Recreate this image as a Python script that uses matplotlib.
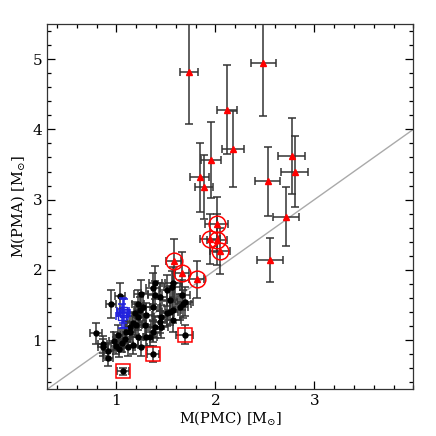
import matplotlib
matplotlib.use("Agg")
import matplotlib.pyplot as plt
from matplotlib.ticker import MultipleLocator, FixedLocator

# ---- data ----
# black points (PMC, PMA, xerr, yerr)
blk_x = [0.79, 0.86, 0.92, 0.915, 0.95, 1.04, 1.25, 0.98, 1.02, 1.10, 1.17, 1.22, 1.27, 1.22,
         1.29, 1.30, 1.17, 1.03, 1.395, 1.56, 1.39, 1.44, 1.54, 1.66, 1.69, 1.64, 1.57, 1.51,
         1.37, 1.30, 1.24, 1.185, 1.44, 1.39, 1.57, 1.135, 1.51, 1.37, 1.675, 1.455, 1.54,
         1.20, 1.135, 1.37, 1.455, 1.22, 1.085, 0.865, 1.12, 1.25, 1.34, 1.57, 1.06, 1.00]
blk_y = [1.10, 0.94, 0.84, 0.74, 1.52, 1.63, 1.65, 0.99, 1.07, 1.12, 1.24, 1.33, 1.47, 1.52,
         1.21, 1.05, 0.93, 0.88, 1.82, 1.76, 1.64, 1.62, 1.57, 1.64, 1.55, 1.47, 1.43, 1.38,
         1.47, 1.36, 1.43, 1.38, 1.26, 1.19, 1.28, 1.19, 1.71, 1.74, 1.52, 1.33, 1.40,
         1.21, 1.12, 1.12, 1.19, 1.05, 1.02, 0.90, 0.90, 0.90, 1.05, 1.81, 0.96, 0.92]
blk_xe = [0.06, 0.05, 0.05, 0.05, 0.05, 0.05, 0.07, 0.05, 0.05, 0.06, 0.06, 0.06, 0.07, 0.06,
          0.06, 0.07, 0.05, 0.05, 0.07, 0.08, 0.07, 0.07, 0.08, 0.08, 0.08, 0.08, 0.08, 0.07,
          0.07, 0.06, 0.06, 0.06, 0.07, 0.07, 0.08, 0.05, 0.08, 0.07, 0.08, 0.07, 0.08,
          0.06, 0.05, 0.07, 0.07, 0.06, 0.05, 0.05, 0.05, 0.06, 0.07, 0.08, 0.05, 0.05]
blk_ye = [0.15, 0.12, 0.12, 0.11, 0.20, 0.19, 0.20, 0.13, 0.14, 0.15, 0.16, 0.18, 0.20, 0.20,
          0.16, 0.14, 0.12, 0.12, 0.24, 0.22, 0.20, 0.20, 0.20, 0.21, 0.20, 0.19, 0.18, 0.18,
          0.19, 0.17, 0.18, 0.17, 0.16, 0.16, 0.17, 0.15, 0.22, 0.22, 0.20, 0.17, 0.18,
          0.16, 0.14, 0.15, 0.16, 0.14, 0.13, 0.12, 0.12, 0.12, 0.14, 0.23, 0.13, 0.12]

# red triangles (no circle)
tri_x = [1.733, 2.485, 2.117, 2.175, 1.952, 1.84, 1.89, 2.77, 2.80, 2.53, 2.715, 2.553]
tri_y = [4.81, 4.94, 4.28, 3.72, 3.56, 3.32, 3.18, 3.62, 3.40, 3.26, 2.76, 2.14]
tri_xe = [0.088, 0.127, 0.105, 0.11, 0.10, 0.096, 0.091, 0.139, 0.14, 0.125, 0.128, 0.128]
tri_ye = [0.73, 0.75, 0.63, 0.54, 0.54, 0.49, 0.46, 0.54, 0.50, 0.49, 0.42, 0.31]

# red triangles circled
cir_x = [1.58, 1.665, 1.81, 2.013, 1.945, 2.02, 2.05]
cir_y = [2.125, 1.96, 1.865, 2.65, 2.44, 2.43, 2.27]
cir_xe = [0.076, 0.07, 0.08, 0.118, 0.10, 0.10, 0.10]
cir_ye = [0.31, 0.30, 0.26, 0.39, 0.36, 0.36, 0.33]

# boxed black points
sq_x = [1.067, 1.368, 1.69]
sq_y = [0.56, 0.80, 1.08]
sq_xe = [0.056, 0.06, 0.085]
sq_ye = [0.05, 0.11, 0.14]

# blue points
blu_x = [1.067, 1.06, 1.075]
blu_y = [1.42, 1.35, 1.38]
blu_xe = [0.06, 0.06, 0.065]
blu_ye = [0.18, 0.17, 0.21]

xticks = [1, 2, 3]
yticks = [1, 2, 3, 4, 5]
xlim = (0.3, 4.0)
ylim = (0.3, 5.5)

plt.rcParams['font.family'] = ['DejaVu Serif']
plt.rcParams['mathtext.fontset'] = 'dejavuserif'

fig = plt.figure(figsize=(4.36, 4.36), dpi=100)
ax = fig.add_axes([0.108, 0.107, 0.84, 0.838])

ax.plot(xlim, xlim, color='#aaaaaa', lw=1.0, zorder=1)

ekw = dict(fmt='none', ecolor='#333333', elinewidth=1.1, capsize=2.8, capthick=1.1, zorder=2)
ax.errorbar(blk_x, blk_y, xerr=blk_xe, yerr=blk_ye, **ekw)
ax.errorbar(tri_x, tri_y, xerr=tri_xe, yerr=tri_ye, **ekw)
ax.errorbar(cir_x, cir_y, xerr=cir_xe, yerr=cir_ye, **ekw)
ax.errorbar(sq_x, sq_y, xerr=sq_xe, yerr=sq_ye, **ekw)
ekb = dict(ekw)
ekb['ecolor'] = '#2222dd'
ekb['zorder'] = 5
ax.errorbar(blu_x, blu_y, xerr=blu_xe, yerr=blu_ye, **ekb)

ax.plot(blk_x, blk_y, 'o', color='black', ms=3.6, zorder=3)
ax.plot(sq_x, sq_y, 'o', color='black', ms=3.6, zorder=3)
ax.plot(sq_x, sq_y, 's', mfc='none', mec='red', mew=1.1, ms=9.5, zorder=4)
ax.plot(blu_x, blu_y, 's', mfc='none', mec='#2222dd', mew=1.0, ms=5.5, zorder=6)
ax.plot(tri_x, tri_y, '^', color='red', ms=4.5, zorder=4)
ax.plot(cir_x, cir_y, '^', color='red', ms=4.5, zorder=4)
ax.plot(cir_x, cir_y, 'o', mfc='none', mec='red', mew=1.1, ms=12, zorder=4)

ax.set_xlim(*xlim)
ax.set_ylim(*ylim)
ax.xaxis.set_major_locator(FixedLocator(xticks))
ax.yaxis.set_major_locator(FixedLocator(yticks))
ax.xaxis.set_minor_locator(MultipleLocator(0.2))
ax.yaxis.set_minor_locator(MultipleLocator(0.2))
ax.tick_params(which='both', direction='in', top=True, right=True, labelsize=11, width=0.9)
ax.tick_params(which='major', length=6)
ax.tick_params(which='minor', length=3)
for s in ax.spines.values():
    s.set_linewidth(0.9)
    s.set_color('#333333')

ax.set_xlabel(r'M(PMC) [M$_{\odot}$]', fontsize=10.5, labelpad=1)
ax.set_ylabel(r'M(PMA) [M$_{\odot}$]', fontsize=10.5, labelpad=4)

fig.savefig('out.png', dpi=100)
